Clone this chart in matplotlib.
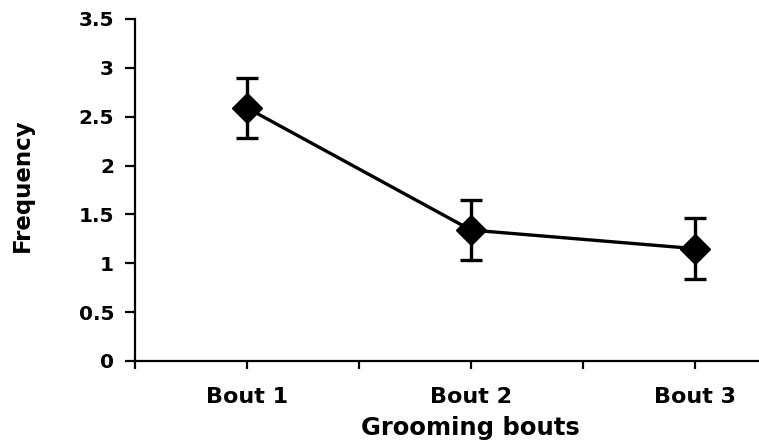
import matplotlib
matplotlib.use("Agg")
import matplotlib.pyplot as plt
import numpy as np

categories = ["Bout 1", "Bout 2", "Bout 3"]
means = [2.59, 1.34, 1.15]
errors = [0.31, 0.31, 0.31]
yticks = [0, 0.5, 1, 1.5, 2, 2.5, 3, 3.5]
ytick_labels = ["0", "0.5", "1", "1.5", "2", "2.5", "3", "3.5"]

plt.rcParams['font.family'] = ['DejaVu Sans']
plt.rcParams['font.weight'] = 'bold'

fig = plt.figure(figsize=(7.59, 4.42), dpi=100)
ax = fig.add_axes([135/759, 1-361/442, 1-135/759, (361-19)/442])

# categories sit on every second unit of the category axis (1, 3, 5)
x = np.arange(len(categories)) * 2 + 1
ax.errorbar(x, means, yerr=errors, color='black', lw=2.4, marker='D', ms=15,
            mfc='black', mec='black', ecolor='black', elinewidth=2.4,
            capsize=8, capthick=2.4, zorder=3)

ax.set_xlim(0, (759-135)/112)
ax.set_ylim(0, 3.5)

all_ticks = np.arange(0, 6)
ax.set_xticks(all_ticks)
ax.set_xticklabels([categories[(t-1)//2] if t % 2 == 1 else "" for t in all_ticks],
                   fontsize=16, fontweight='bold')

ax.set_yticks(yticks)
ax.set_yticklabels(ytick_labels, fontsize=14.5, fontweight='bold')

ax.spines['top'].set_visible(False)
ax.spines['right'].set_visible(False)
for s in ['left', 'bottom']:
    ax.spines[s].set_linewidth(1.6)
ax.tick_params(axis='y', direction='out', length=7, width=1.6, pad=8)
ax.tick_params(axis='x', direction='out', length=6, width=1.6, pad=13)

fig.text(22/759, 1-185/442, "Frequency", rotation=90, ha='center', va='center',
         fontsize=16.5, fontweight='bold')
fig.text(470/759, 1-428/442, "Grooming bouts", ha='center', va='center',
         fontsize=17.5, fontweight='bold')

fig.savefig("out.png", dpi=100)
